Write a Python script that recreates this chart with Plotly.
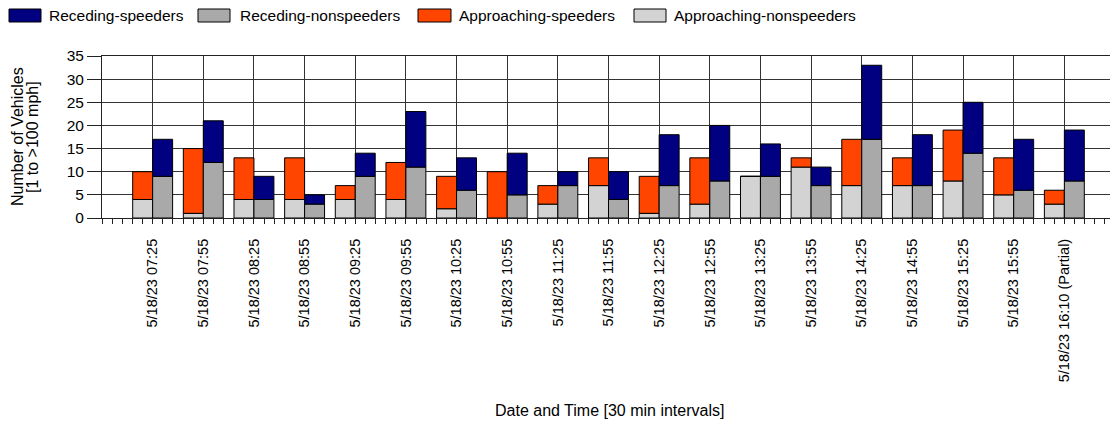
import plotly.graph_objects as go

labels = ["5/18/23 07:25", "5/18/23 07:55", "5/18/23 08:25", "5/18/23 08:55",
          "5/18/23 09:25", "5/18/23 09:55", "5/18/23 10:25", "5/18/23 10:55",
          "5/18/23 11:25", "5/18/23 11:55", "5/18/23 12:25", "5/18/23 12:55",
          "5/18/23 13:25", "5/18/23 13:55", "5/18/23 14:25", "5/18/23 14:55",
          "5/18/23 15:25", "5/18/23 15:55", "5/18/23 16:10 (Partial)"]

approach_non = [4, 1, 4, 4, 4, 4, 2, 0, 3, 7, 1, 3, 9, 11, 7, 7, 8, 5, 3]
approach_speed = [6, 14, 9, 9, 3, 8, 7, 10, 4, 6, 8, 10, 0, 2, 10, 6, 11, 8, 3]
recede_non = [9, 12, 4, 3, 9, 11, 6, 5, 7, 4, 7, 8, 9, 7, 17, 7, 14, 6, 8]
recede_speed = [8, 9, 5, 2, 5, 12, 7, 9, 3, 6, 11, 12, 7, 4, 16, 11, 11, 11, 11]

x = list(range(len(labels)))
bw = 0.394
FONT = "Liberation Sans, Arial, sans-serif"

c_rs = "#000080"   # receding speeders
c_rn = "#A9A9A9"   # receding nonspeeders
c_as = "#FF4500"   # approaching speeders
c_an = "#D3D3D3"   # approaching nonspeeders

fig = go.Figure()

def add_bar(y, base, color, offset, name):
    fig.add_trace(go.Bar(
        x=x, y=y, base=base, width=bw, offset=offset, name=name,
        marker=dict(color=color, line=dict(color="black", width=1)),
        showlegend=False,
    ))

add_bar(approach_non, None, c_an, -bw, "Approaching-nonspeeders")
add_bar(approach_speed, approach_non, c_as, -bw, "Approaching-speeders")
add_bar(recede_non, None, c_rn, 0, "Receding-nonspeeders")
add_bar(recede_speed, recede_non, c_rs, 0, "Receding-speeders")

# page body has an 8px margin, so the figure starts at (8, 8) in the window
W, H = 1110, 415
OFF = 8
# plot area in window pixels: x 102..1115, y 56..218
L, R, T, B = 102, 1115, 56, 218
def px(v):
    return (v - L) / (R - L)
def py(v):
    return (B - v) / (B - T)

# legend drawn by hand (wide swatches like the original)
legend = [("Receding-speeders", c_rs, 9, 41, 47),
          ("Receding-nonspeeders", c_rn, 198, 230, 238),
          ("Approaching-speeders", c_as, 418, 451, 457),
          ("Approaching-nonspeeders", c_an, 634, 666, 672)]
for name, col, x0, x1, tx in legend:
    fig.add_shape(type="rect", xref="paper", yref="paper",
                  x0=px(x0), x1=px(x1), y0=py(22), y1=py(9),
                  fillcolor=col, line=dict(color="black", width=1))
    fig.add_annotation(text=name, xref="paper", yref="paper",
                       x=px(tx), y=py(15), xanchor="left", yanchor="middle",
                       showarrow=False, font=dict(size=15.5, color="#000"))

for txt, cx in [("Number of Vehicles", 17), ("[1 to >100 mph]", 32)]:
    fig.add_annotation(text=txt, xref="paper", yref="paper",
                       x=px(cx), y=py(137), textangle=-90, showarrow=False,
                       xanchor="center", yanchor="middle",
                       font=dict(size=16, color="#000"))
fig.add_annotation(text="Date and Time [30 min intervals]", xref="paper", yref="paper",
                   x=px(609), y=py(410), showarrow=False,
                   xanchor="center", yanchor="middle",
                   font=dict(size=16, color="#000"))

fig.update_layout(
    width=W, height=H,
    margin=dict(l=L - OFF, r=W + OFF - R, t=T - OFF, b=H + OFF - B),
    paper_bgcolor="white", plot_bgcolor="white",
    barmode="overlay",
    font=dict(family=FONT, color="#000"),
    showlegend=False,
)

fig.update_xaxes(
    range=[-1, 19], tickvals=x, ticktext=labels, tickangle=-90,
    tickfont=dict(size=14.5), ticks="outside", ticklen=5, tickcolor="#222",
    ticklabelstandoff=9,
    minor=dict(dtick=0.2, tick0=0, ticks="outside", ticklen=5, tickcolor="#222", showgrid=False),
    showgrid=True, gridcolor="#333", gridwidth=1,
    showline=True, linecolor="#222", linewidth=1, mirror=True, zeroline=False,
)
fig.update_yaxes(
    range=[0, 35], dtick=5, tickfont=dict(size=15.5),
    ticks="outside", ticklen=14, tickcolor="#222",
    showgrid=True, gridcolor="#333", gridwidth=1,
    showline=True, linecolor="#222", linewidth=1, mirror=True, zeroline=False,
)

fig.write_html("out.html")
